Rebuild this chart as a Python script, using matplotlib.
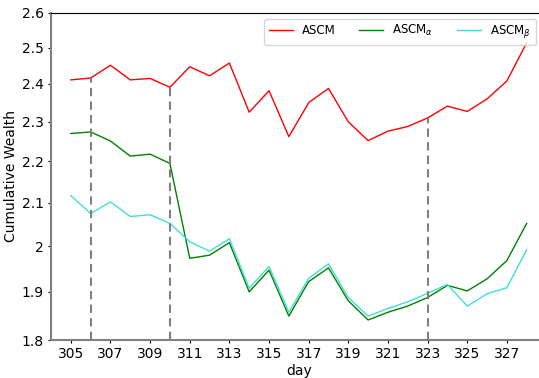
import numpy as np
from matplotlib import pyplot as plt
from matplotlib.ticker import FixedLocator, FormatStrFormatter, NullLocator

days = np.arange(305, 329)
ascm = [2.411, 2.416, 2.451, 2.411, 2.415, 2.391, 2.447, 2.422, 2.457, 2.325, 2.382, 2.262,
        2.350, 2.388, 2.300, 2.252, 2.276, 2.288, 2.310, 2.341, 2.327, 2.360, 2.408, 2.514]
ascm_alpha = [2.270, 2.274, 2.251, 2.213, 2.218, 2.195, 1.973, 1.980, 2.008, 1.900, 1.947, 1.849,
              1.922, 1.952, 1.881, 1.841, 1.857, 1.870, 1.888, 1.914, 1.902, 1.928, 1.968, 2.052]
ascm_beta = [2.117, 2.075, 2.102, 2.068, 2.072, 2.052, 2.010, 1.989, 2.017, 1.908, 1.955, 1.857,
             1.929, 1.961, 1.888, 1.849, 1.865, 1.879, 1.897, 1.916, 1.870, 1.896, 1.909, 1.992]
marked_days = [306, 310, 323]
y_ticks = [1.8, 1.9, 2.0, 2.1, 2.2, 2.3, 2.4, 2.5, 2.6]
x_ticks = np.arange(305, 329, 2)

fig = plt.figure(figsize=(5.39, 3.78), dpi=100)
ax = fig.add_axes([51/539, 1 - 340/378, 495.5/539, 327.3/378])

ax.plot(days, ascm, color='red', lw=1, label='ASCM')
ax.plot(days, ascm_alpha, color='green', lw=1, label=r'ASCM$_\alpha$')
ax.plot(days, ascm_beta, color='turquoise', lw=1, label=r'ASCM$_\beta$')

# dashed markers from the bottom up to the ASCM curve
tops = [ascm[list(days).index(d)] for d in marked_days]
ax.vlines(marked_days, 1.8, tops, colors='gray', linestyles=(0, (4, 2.5)), lw=1.5)

ax.set_yscale('log')
ax.set_ylim(1.8, 2.6)
ax.yaxis.set_major_locator(FixedLocator(y_ticks))
ax.yaxis.set_major_formatter(FormatStrFormatter('%g'))
ax.yaxis.set_minor_locator(NullLocator())
ax.set_xlim(304, 329)
ax.set_xticks(x_ticks)
ax.tick_params(length=2.5, pad=2.5)

for s in ['left', 'bottom']:
    ax.spines[s].set_color('gray')
    ax.spines[s].set_linewidth(1.5)

ax.set_xlabel('day', labelpad=2)
ax.set_ylabel('Cumulative Wealth', labelpad=3)
ax.legend(loc='upper right', ncols=3, fontsize=8.5, bbox_to_anchor=(542/539, 1 - 12.7/378),
          bbox_transform=fig.transFigure)
plt.savefig('out.png')
